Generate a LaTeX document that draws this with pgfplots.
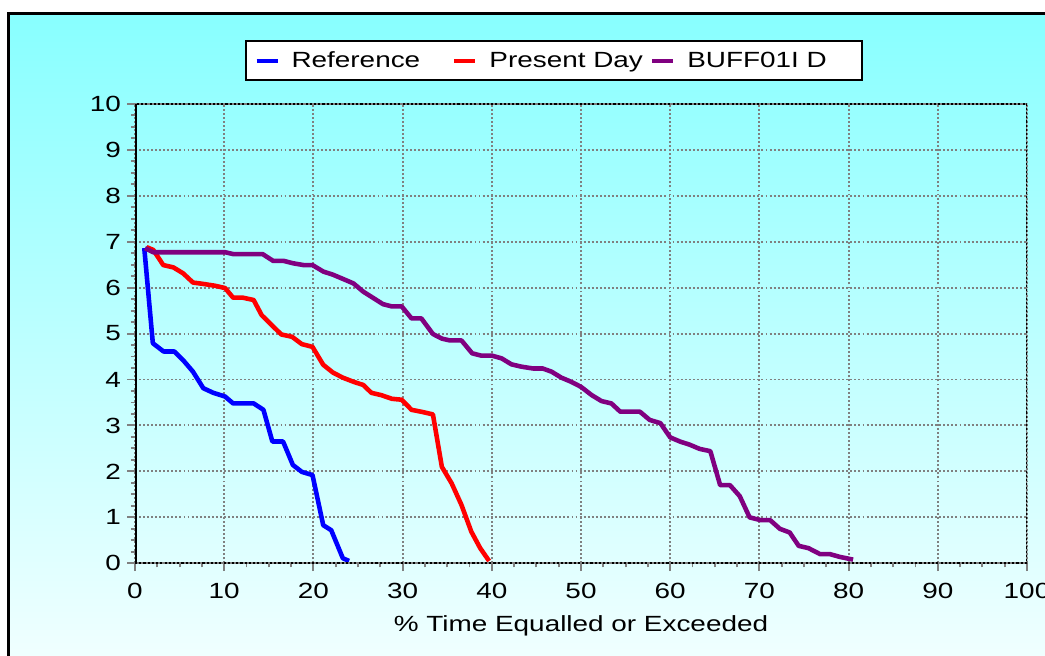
\documentclass[border=0pt]{standalone}
\usepackage{pgfplots}
\pgfplotsset{compat=1.18}
\usepackage{fontspec}
\setmainfont{Liberation Sans}[FakeStretch=1.27]
\definecolor{bgtop}{RGB}{136,255,255}
\definecolor{bgbot}{RGB}{242,255,255}
\definecolor{gridgray}{RGB}{128,128,128}
\definecolor{refblue}{RGB}{0,0,255}
\definecolor{pdred}{RGB}{255,0,0}
\definecolor{buffpurple}{RGB}{128,0,128}
\begin{document}
\begin{tikzpicture}[font=\fontsize{12.5pt}{15pt}\selectfont]
  \path[use as bounding box] (0,0) rectangle (20.9,13.1);
  % background panel, cut at the right and bottom edges
  \begin{scope}
    \clip (0,0) rectangle (20.9,13.1);
    \shade[top color=bgtop, bottom color=bgbot] (0.17,-0.3) rectangle (21.3,12.824);
    \draw[line width=1.5pt] (0.17,-0.3) -- (0.17,12.824) -- (21.3,12.824);
  \end{scope}
  \begin{axis}[
    at={(2.7cm,1.834cm)}, anchor=south west,
    scale only axis, width=17.84cm, height=9.19cm,
    xmin=0, xmax=100, ymin=0, ymax=10,
    xtick={0,10,...,100}, ytick={0,1,...,10},
    minor tick num=3,
    xtick pos=left, ytick pos=left,
    tick align=outside,
    major tick length=4.5pt, minor tick length=2.3pt,
    every tick/.style={gridgray, line width=1.1pt},
    grid=major,
    major grid style={gridgray, line width=1.1pt, dash pattern=on 1.1pt off 1.2pt},
    axis line style={draw=none},
    /pgf/number format/assume math mode=true,
    xticklabel style={yshift=-3.4pt},
    xlabel={\% Time Equalled or Exceeded},
    xlabel style={yshift=-2.5pt},
    legend columns=3,
    legend style={at={(0.4697,1.0934)}, anchor=center, draw=black, line width=1.1pt,
      fill=white, inner xsep=0.18cm, inner ysep=3.8pt,
      nodes={inner xsep=0pt, inner ysep=2pt},
      /tikz/every odd column/.append style={column sep=0.24cm},
      /tikz/every even column/.append style={column sep=0pt}},
    legend image code/.code={\draw[#1, line width=2.2pt] (0cm,0cm) -- (0.42cm,0cm);},
  ]
    \addplot[refblue, line width=2.6pt, line join=round] coordinates {
      (1.04,6.86) (2.0,4.79) (3.2,4.61) (4.4,4.61) (5.4,4.42) (6.5,4.17)
      (7.66,3.81) (8.78,3.71) (10.09,3.63) (11.0,3.48) (13.3,3.48) (14.4,3.34)
      (15.4,2.65) (16.6,2.65) (17.7,2.14) (18.7,1.99) (19.9,1.92) (21.1,0.83)
      (22.0,0.72) (23.3,0.11) (24.0,0.05)
    };
    \addlegendentry{\makebox[3.22cm][l]{Reference}}
    \addplot[pdred, line width=2.6pt, line join=round] coordinates {
      (1.3,6.88) (2.05,6.82) (3.17,6.49) (4.3,6.44) (5.4,6.31) (6.5,6.11)
      (7.66,6.08) (8.97,6.04) (10.1,5.99) (11.0,5.78) (12.1,5.78) (13.3,5.73)
      (14.2,5.40) (15.3,5.19) (16.4,4.98) (17.6,4.93) (18.7,4.77) (19.9,4.71)
      (21.1,4.32) (22.2,4.15) (23.3,4.04) (24.5,3.95) (25.6,3.88) (26.5,3.71)
      (27.6,3.66) (28.8,3.58) (29.9,3.56) (31.0,3.34) (32.3,3.29) (33.4,3.24)
      (34.4,2.10) (35.5,1.74) (36.6,1.27) (37.7,0.69) (38.7,0.33) (39.7,0.05)
    };
    \addlegendentry{\makebox[3.22cm][l]{Present Day}}
    \addplot[buffpurple, line width=2.6pt, line join=round] coordinates {
      (1.12,6.86) (2.05,6.77) (10.1,6.77) (11.0,6.73) (14.3,6.73) (15.5,6.58)
      (16.7,6.58) (17.7,6.53) (18.9,6.49) (19.9,6.49) (21.1,6.35) (22.2,6.28)
      (23.3,6.19) (24.5,6.09) (25.6,5.91) (26.5,5.80) (27.8,5.64) (28.8,5.59)
      (29.9,5.59) (31.0,5.33) (32.1,5.33) (33.4,4.99) (34.4,4.89) (35.3,4.85)
      (36.6,4.85) (37.8,4.57) (38.8,4.52) (40.0,4.52) (41.1,4.46) (42.2,4.33)
      (43.3,4.28) (44.6,4.24) (45.7,4.24) (46.7,4.17) (47.8,4.04) (48.9,3.95)
      (50.0,3.84) (51.2,3.66) (52.3,3.53) (53.4,3.48) (54.4,3.30) (56.6,3.30)
      (57.7,3.12) (58.9,3.05) (60.0,2.74) (61.1,2.65) (62.2,2.58) (63.3,2.49)
      (64.5,2.44) (65.6,1.70) (66.7,1.70) (67.8,1.46) (68.9,1.00) (70.1,0.94)
      (71.2,0.94) (72.3,0.75) (73.4,0.67) (74.4,0.38) (75.5,0.33) (76.8,0.20)
      (77.9,0.20) (79.0,0.14) (80.5,0.08)
    };
    \addlegendentry{\makebox[3.32cm][l]{BUFF01I D}}
    % frame of the plot area
    \draw[gridgray, line width=1.6pt] (rel axis cs:0,0) -- (rel axis cs:1,0) -- (rel axis cs:1,1) -- (rel axis cs:0,1);
    \draw[black, line width=1.6pt, dash pattern=on 1.2pt off 1.2pt] (rel axis cs:0,0) -- (rel axis cs:1,0) -- (rel axis cs:1,1) -- (rel axis cs:0,1);
    \draw[black, line width=2.4pt] (rel axis cs:0,0) -- (rel axis cs:0,1);
  \end{axis}
\end{tikzpicture}
\end{document}
